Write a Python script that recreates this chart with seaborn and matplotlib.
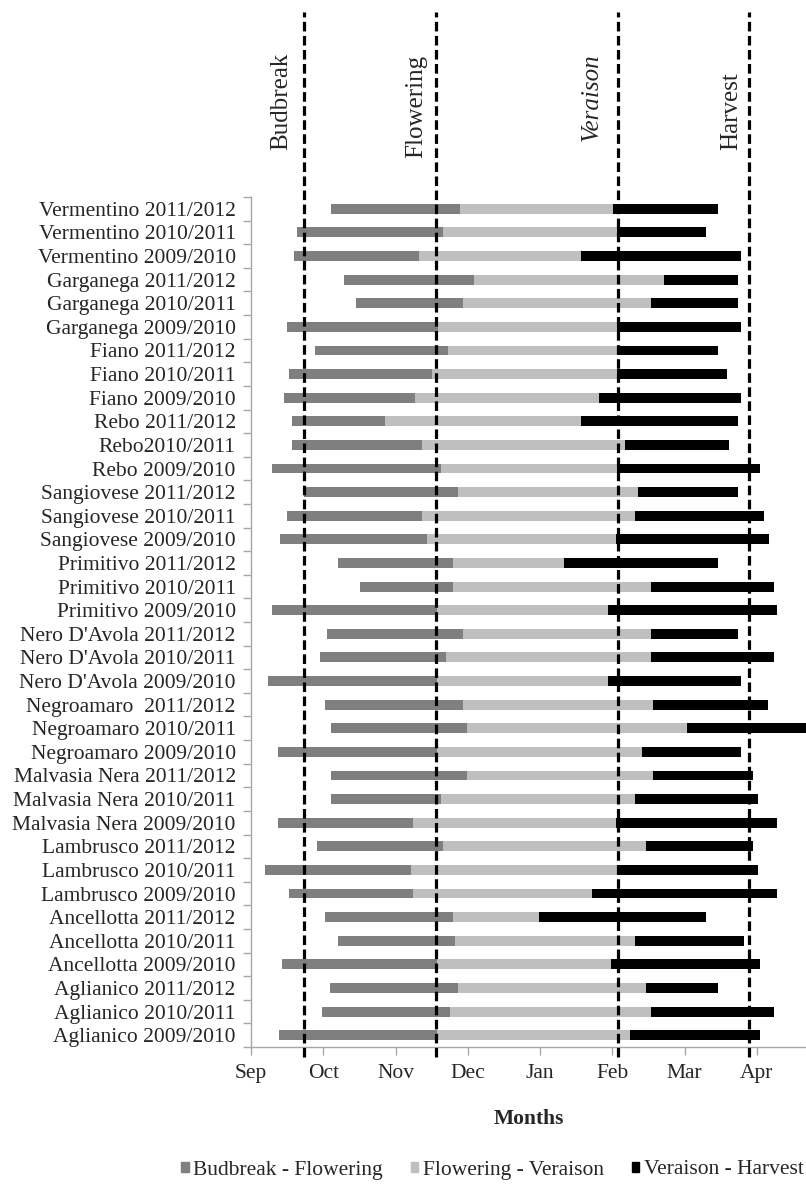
import matplotlib
matplotlib.use("Agg")
import matplotlib.pyplot as plt
import seaborn as sns
import pandas as pd
from matplotlib.patches import Patch

# ---- data (months after the "Sep" tick) ----
varieties = [
    "Vermentino 2011/2012", "Vermentino 2010/2011", "Vermentino 2009/2010",
    "Garganega 2011/2012", "Garganega 2010/2011", "Garganega 2009/2010",
    "Fiano 2011/2012", "Fiano 2010/2011", "Fiano 2009/2010",
    "Rebo 2011/2012", "Rebo2010/2011", "Rebo 2009/2010",
    "Sangiovese 2011/2012", "Sangiovese 2010/2011", "Sangiovese 2009/2010",
    "Primitivo 2011/2012", "Primitivo 2010/2011", "Primitivo 2009/2010",
    "Nero D'Avola 2011/2012", "Nero D'Avola 2010/2011", "Nero D'Avola 2009/2010",
    "Negroamaro  2011/2012", "Negroamaro 2010/2011", "Negroamaro 2009/2010",
    "Malvasia Nera 2011/2012", "Malvasia Nera 2010/2011", "Malvasia Nera 2009/2010",
    "Lambrusco 2011/2012", "Lambrusco 2010/2011", "Lambrusco 2009/2010",
    "Ancellotta 2011/2012", "Ancellotta 2010/2011", "Ancellotta 2009/2010",
    "Aglianico 2011/2012", "Aglianico 2010/2011", "Aglianico 2009/2010",
]
budbreak = [1.11, 0.63, 0.59, 1.28, 1.45, 0.50, 0.89, 0.53, 0.46, 0.57, 0.57, 0.29,
            0.74, 0.50, 0.40, 1.21, 1.51, 0.29, 1.05, 0.95, 0.23, 1.02, 1.11, 0.37,
            1.11, 1.11, 0.37, 0.92, 0.20, 0.53, 1.02, 1.21, 0.43, 1.09, 0.98, 0.39]
flowering = [2.89, 2.65, 2.33, 3.08, 2.93, 2.59, 2.72, 2.50, 2.27, 1.85, 2.37, 2.63,
             2.86, 2.37, 2.44, 2.80, 2.80, 2.58, 2.93, 2.70, 2.58, 2.93, 2.99, 2.58,
             2.99, 2.63, 2.24, 2.65, 2.21, 2.24, 2.80, 2.82, 2.58, 2.86, 2.76, 2.57]
veraison = [5.01, 5.07, 4.56, 5.72, 5.54, 5.07, 5.07, 5.07, 4.81, 4.56, 5.18, 5.07,
            5.35, 5.31, 5.05, 4.33, 5.54, 4.94, 5.54, 5.54, 4.94, 5.56, 6.04, 5.41,
            5.56, 5.31, 5.05, 5.47, 5.07, 4.72, 3.98, 5.31, 4.98, 5.47, 5.54, 5.24]
harvest = [6.46, 6.29, 6.78, 6.74, 6.74, 6.78, 6.46, 6.59, 6.78, 6.74, 6.62, 7.04,
           6.74, 7.10, 7.17, 6.46, 7.24, 7.28, 6.74, 7.24, 6.78, 7.15, 7.90, 6.78,
           6.95, 7.02, 7.28, 6.95, 7.02, 7.28, 6.30, 6.82, 7.04, 6.46, 7.24, 7.04]
month_labels = ["Sep", "Oct", "Nov", "Dec", "Jan", "Feb", "Mar", "Apr"]
stage_names = ["Budbreak", "Flowering", "Veraison", "Harvest"]
stage_means = [0.74, 2.56, 5.08, 6.89]
segment_names = ["Budbreak - Flowering", "Flowering - Veraison", "Veraison - Harvest"]

df = pd.DataFrame({"variety": varieties, "budbreak": budbreak,
                   "flowering": flowering, "veraison": veraison, "harvest": harvest})

# ---- style ----
sns.set_theme(style="white")
plt.rcParams["font.family"] = ["Liberation Serif", "DejaVu Serif"]
FS = 15.5
FS_STAGE = 18
DARK, LIGHT, BLACK = "#7f7f7f", "#bfbfbf", "#000000"
AXC = "#a6a6a6"

fig = plt.figure(figsize=(8.06, 11.84), dpi=100)
ax = fig.add_axes([251 / 806, 1 - 1047 / 1184, 1 - 251 / 806, 850 / 1184])

bw = 0.42
# layered bars: each segment ends at its stage date, a white bar masks before budbreak
for col, c in [("harvest", BLACK), ("veraison", LIGHT), ("flowering", DARK), ("budbreak", "white")]:
    sns.barplot(data=df, y="variety", x=col, color=c, orient="h", width=bw,
                linewidth=0, saturation=1, ax=ax, errorbar=None)

ax.set_xlim(0, 7.68)
ax.set_ylim(len(varieties) - 0.5, -0.5)
ax.set_xticks(range(len(month_labels)))
ax.set_xticklabels(month_labels, fontsize=FS)
ax.set_yticks(range(len(varieties)))
ax.set_yticklabels(varieties, fontsize=FS)
ax.set_yticks([i + 0.5 for i in range(-1, len(varieties))], minor=True)
ax.tick_params(axis="y", which="major", length=0, pad=11)
ax.tick_params(axis="y", which="minor", length=6, color=AXC, width=1, left=True)
ax.tick_params(axis="x", which="major", length=6, color=AXC, width=1, bottom=True, pad=6)
ax.set_ylabel("")
ax.set_xlabel("Months", fontsize=FS, fontweight="bold", labelpad=19)
for s in ["top", "right"]:
    ax.spines[s].set_visible(False)
for s in ["left", "bottom"]:
    ax.spines[s].set_color(AXC)
    ax.spines[s].set_linewidth(1)

# stage mean lines with rotated labels
label_dx = [0.32, 0.28, 0.36, 0.25]
label_y = [1.112, 1.107, 1.117, 1.101]
for name, xv, dx, ly in zip(stage_names, stage_means, label_dx, label_y):
    ax.axvline(xv, ymin=-0.012, ymax=1.218, color="black", lw=2.3,
               ls=(0, (3, 1.4)), clip_on=False, zorder=5)
    style = "italic" if name == "Veraison" else "normal"
    ax.text(xv - dx, ly, name, transform=ax.get_xaxis_transform(),
            rotation=90, ha="center", va="center", fontsize=FS_STAGE, style=style,
            clip_on=False)

handles = [Patch(color=c, label=l) for c, l in zip([DARK, LIGHT, BLACK], segment_names)]
fig.legend(handles=handles, loc="center", bbox_to_anchor=(0.611, 1 - 1170 / 1184),
           ncol=3, frameon=False, fontsize=FS, handlelength=0.35, handleheight=0.35,
           handletextpad=0.2, columnspacing=1.3)

fig.savefig("out.png", dpi=100)
